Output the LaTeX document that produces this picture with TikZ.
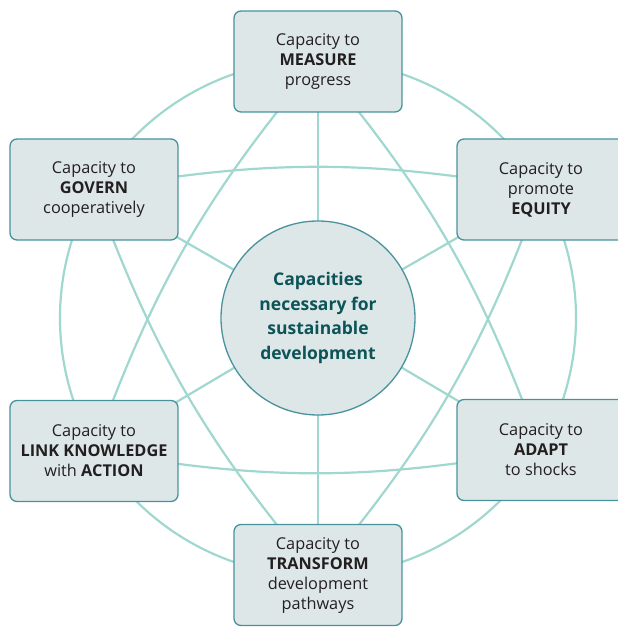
\documentclass[tikz,border=0pt]{standalone}
\usepackage{fontspec}
\setmainfont{Open Sans}
\usetikzlibrary{backgrounds}
\definecolor{ringline}{RGB}{160,216,208}
\definecolor{boxedge}{RGB}{72,146,158}
\definecolor{boxfill}{RGB}{222,231,232}
\definecolor{coretext}{RGB}{12,84,88}
\definecolor{boxtext}{RGB}{35,31,32}

\begin{document}
\begin{tikzpicture}[x=1pt,y=1pt,
	capbox/.style={draw=boxedge,line width=1.3pt,fill=boxfill,rounded corners=7pt,minimum width=168pt,minimum height=101pt,align=center,text=boxtext,font=\fontsize{16.3}{20}\selectfont},
	hub/.style={circle,draw=boxedge,line width=1.3pt,fill=boxfill,minimum size=194pt,align=center,text=coretext,font=\fontsize{17.5}{24.5}\selectfont\bfseries},
	tie/.style={ringline,line width=2.2pt}]
	\useasboundingbox (-318,-309) rectangle (300,318);

	\node[hub] (core) at (0,0) {Capacities\\necessary for\\sustainable\\development};

	\node[capbox] (measure) at (0,256.5) {Capacity to\\\textbf{MEASURE}\\progress};
	\node[capbox] (govern) at (-224,128.5) {Capacity to\\\textbf{GOVERN}\\cooperatively};
	\node[capbox] (equity) at (223,128.5) {Capacity to\\promote\\\textbf{EQUITY}};
	\node[capbox] (knowledge) at (-224,-133) {Capacity to\\\textbf{LINK KNOWLEDGE}\\with \textbf{ACTION}};
	\node[capbox] (adapt) at (223,-132) {Capacity to\\\textbf{ADAPT}\\to shocks};
	\node[capbox] (transform) at (0,-257) {Capacity to\\\textbf{TRANSFORM}\\development\\pathways};

	\begin{pgfonlayer}{background}
		\draw[tie] (core.center) circle (258);
		\foreach \n in {measure,govern,equity,knowledge,adapt,transform}
			\draw[tie] (core.center) -- (\n.center);
		\draw[tie] (measure.center) to[bend right=10] (knowledge.center)
			to[bend right=10] (adapt.center) to[bend right=10] (measure.center);
		\draw[tie] (govern.center) to[bend right=10] (transform.center)
			to[bend right=10] (equity.center) to[bend right=10] (govern.center);
	\end{pgfonlayer}
\end{tikzpicture}
\end{document}
